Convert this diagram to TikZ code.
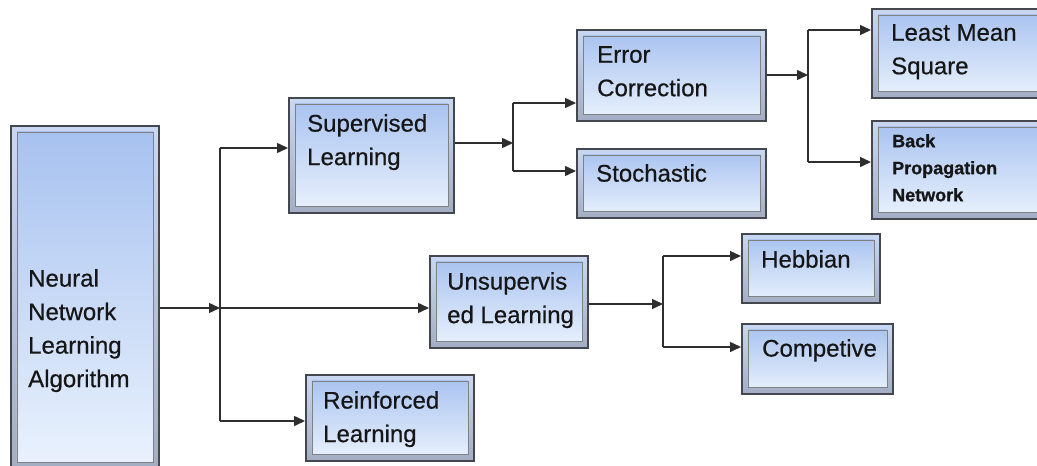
\documentclass[tikz,border=0pt]{standalone}
\usepackage{fontspec}
\setmainfont{Liberation Sans}
\newfontfamily\heavyfont[FakeBold=0.5]{Liberation Sans}
\newfontfamily\blackfont[FakeBold=0.8]{Liberation Sans Bold}
\usetikzlibrary{arrows.meta}
\definecolor{edge}{HTML}{44474D}
\definecolor{bevtop}{HTML}{C9D8F2}
\definecolor{bevbot}{HTML}{A3AEC4}
\definecolor{fillA}{HTML}{A6C1EF}
\definecolor{fillB}{HTML}{EAF2FD}
\definecolor{ink}{HTML}{161616}
\definecolor{wire}{HTML}{2E2E2E}
\tikzset{
  box/.style={rectangle, draw=edge, line width=1.8pt, inner sep=0pt, anchor=north west,
    top color=bevtop, bottom color=bevbot,
    path picture={\shadedraw[top color=fillA, bottom color=fillB, draw=black!50, line width=0.8pt]
      ([shift={(6pt,-6pt)}]path picture bounding box.north west) rectangle
      ([shift={(-6pt,7pt)}]path picture bounding box.south east);}},
  lbl/.style={anchor=north west, inner sep=0pt, align=left, text=ink,
    font=\heavyfont\fontsize{24}{33.5}\selectfont},
  smalllbl/.style={anchor=north west, inner sep=0pt, align=left, text=ink,
    font=\blackfont\fontsize{18}{27}\selectfont},
  arr/.style={draw=wire, line width=1.5pt, -{Triangle[length=11pt,width=10pt]}},
  wireline/.style={draw=wire, line width=1.5pt},
}
\begin{document}
\begin{tikzpicture}[x=1pt,y=-1pt]
\useasboundingbox (0,0) rectangle (1037,466);
\fill[white] (0,0) rectangle (1037,466);
% boxes
\node[box, minimum width=148pt, minimum height=343pt] (neural) at (10,125) {};
\node[box, minimum width=165pt, minimum height=115pt] (sup) at (288,97) {};
\node[box, minimum width=189pt, minimum height=91pt] (err) at (576,29) {};
\node[box, minimum width=189pt, minimum height=69pt] (sto) at (576,148) {};
\node[box, minimum width=180pt, minimum height=89pt] (lms) at (871,8) {};
\node[box, minimum width=180pt, minimum height=98pt] (bpn) at (871,120) {};
\node[box, minimum width=158pt, minimum height=92pt] (uns) at (429,255) {};
\node[box, minimum width=138pt, minimum height=69pt] (heb) at (741,233) {};
\node[box, minimum width=151pt, minimum height=70pt] (com) at (741,323) {};
\node[box, minimum width=168pt, minimum height=86pt] (rei) at (305,374) {};
% labels
\node[lbl] (neuralT) at (28,269) {Neural\\Network\\Learning\\Algorithm};
\node[lbl] (supT) at (307,114) {Supervised\\Learning};
\node[lbl] (errT) at (597,46) {Error\\Correction};
\node[lbl] (stoT) at (596,164) {Stochastic};
\node[lbl] (lmsT) at (891,24) {Least Mean\\Square};
\node[smalllbl] (bpnT) at (892,134) {Back\\Propagation\\Network};
\node[lbl] (unsT) at (447,272) {Unsupervis\\ed Learning};
\node[lbl] (hebT) at (761,250) {Hebbian};
\node[lbl] (comT) at (762,339) {Competive};
\node[lbl] (reiT) at (323,391) {Reinforced\\Learning};
% junctions
\coordinate (j1) at (220,308);
\coordinate (ysup) at (220,148);
\coordinate (yrei) at (220,421);
\coordinate (j2) at (513,143);
\coordinate (yerr) at (513,103);
\coordinate (ysto) at (513,171);
\coordinate (j3) at (808,75);
\coordinate (ylms) at (808,30);
\coordinate (ybpn) at (808,162);
\coordinate (j4) at (663,304);
\coordinate (yheb) at (663,256);
\coordinate (ycom) at (663,347);
% connectors
\draw[arr] (neural.east |- j1) -- (j1);
\draw[arr] (j1) -- (j1 -| uns.west);
\draw[wireline] (ysup) -- (yrei);
\draw[arr] (ysup) -- (ysup -| sup.west);
\draw[arr] (yrei) -- (yrei -| rei.west);
\draw[arr] (sup.east |- j2) -- (j2);
\draw[wireline] (yerr) -- (ysto);
\draw[arr] (yerr) -- (yerr -| err.west);
\draw[arr] (ysto) -- (ysto -| sto.west);
\draw[arr] (err.east |- j3) -- (j3);
\draw[wireline] (ylms) -- (ybpn);
\draw[arr] (ylms) -- (ylms -| lms.west);
\draw[arr] (ybpn) -- (ybpn -| bpn.west);
\draw[arr] (uns.east |- j4) -- (j4);
\draw[wireline] (yheb) -- (ycom);
\draw[arr] (yheb) -- (yheb -| heb.west);
\draw[arr] (ycom) -- (ycom -| com.west);
\end{tikzpicture}
\end{document}
